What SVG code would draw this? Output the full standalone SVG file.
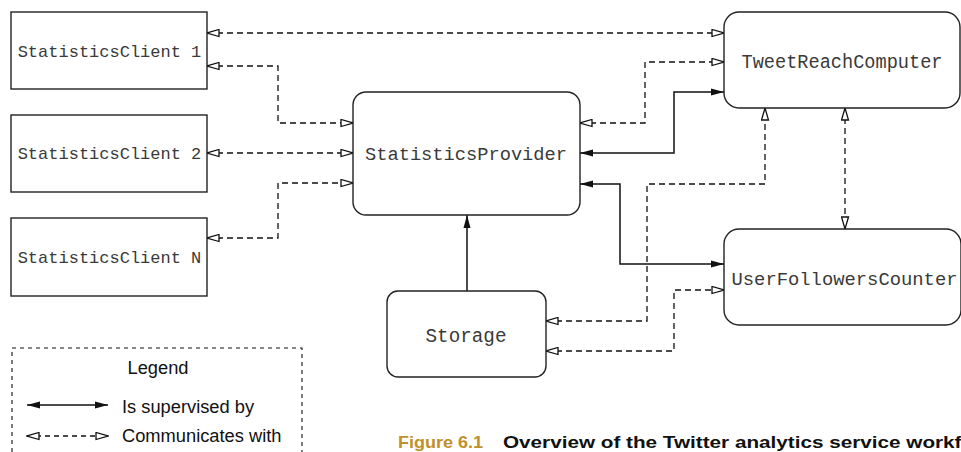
<svg xmlns="http://www.w3.org/2000/svg" width="961" height="452" viewBox="0 0 961 452">
<style>
.box{fill:#fff;stroke:#222;stroke-width:1.4}
.lbl{font-family:"Liberation Mono","Courier New",monospace;fill:#3a3a3a;text-anchor:middle}
.dash{fill:none;stroke:#111;stroke-width:1.3;stroke-dasharray:6,4;marker-start:url(#open);marker-end:url(#open)}
.solid{fill:none;stroke:#111;stroke-width:1.5}
.leg{font-family:"Liberation Sans",Arial,sans-serif;font-size:18.3px;fill:#111}
</style>
<defs>
<marker id="open" viewBox="0 0 14 9" refX="13" refY="4.5" markerWidth="14" markerHeight="9" markerUnits="userSpaceOnUse" orient="auto-start-reverse">
<path d="M1,1 L13,4.5 L1,8 z" fill="#fff" stroke="#111" stroke-width="1.3"/>
</marker>
<marker id="fill" viewBox="0 0 14 8" refX="13" refY="4" markerWidth="14" markerHeight="8" markerUnits="userSpaceOnUse" orient="auto-start-reverse">
<path d="M0,0.5 L13,4 L0,7.5 z" fill="#111"/>
</marker>
</defs>

<g id="connectors">
<path class="dash" d="M207,33 H724"/>
<path class="dash" d="M207,66 H278 V123 H353"/>
<path class="dash" d="M207,153 H353"/>
<path class="dash" d="M207,238 H278 V183 H353"/>
<path class="dash" d="M580,123 H645 V62 H724"/>
<path class="solid" d="M580,153 H674 V92 H724" marker-start="url(#fill)" marker-end="url(#fill)"/>
<path class="solid" d="M580,184 H620 V264 H724" marker-start="url(#fill)" marker-end="url(#fill)"/>
<path class="dash" d="M546,321 H647 V184 H765 V108"/>
<path class="dash" d="M546,351 H674 V290 H724"/>
<path class="dash" d="M845,108 V229"/>
<path class="solid" d="M467,291 V215" marker-end="url(#fill)"/>
</g>

<g id="client1">
<rect class="box" x="11" y="12" width="196" height="77"/>
<text class="lbl" x="109.5" y="57" font-size="17">StatisticsClient 1</text>
</g>
<g id="client2">
<rect class="box" x="11" y="115" width="196" height="77"/>
<text class="lbl" x="109.5" y="159" font-size="17">StatisticsClient 2</text>
</g>
<g id="clientN">
<rect class="box" x="11" y="218" width="196" height="78"/>
<text class="lbl" x="109.5" y="263" font-size="17">StatisticsClient N</text>
</g>
<g id="provider">
<rect class="box" x="353" y="92" width="227" height="123" rx="13"/>
<text class="lbl" x="466" y="160" font-size="19" textLength="202" lengthAdjust="spacingAndGlyphs">StatisticsProvider</text>
</g>
<g id="tweetreach">
<rect class="box" x="724" y="12" width="236" height="96" rx="15"/>
<text class="lbl" x="842" y="68" font-size="19.5" textLength="201" lengthAdjust="spacingAndGlyphs">TweetReachComputer</text>
</g>
<g id="userfollowers">
<rect class="box" x="724" y="229" width="237" height="96" rx="15"/>
<text class="lbl" x="844.5" y="285" font-size="19" textLength="226" lengthAdjust="spacingAndGlyphs">UserFollowersCounter</text>
</g>
<g id="storage">
<rect class="box" x="387" y="291" width="159" height="86" rx="11"/>
<text class="lbl" x="466" y="342" font-size="19.5" textLength="81" lengthAdjust="spacingAndGlyphs">Storage</text>
</g>

<g id="legend">
<rect x="12" y="348" width="290" height="130" fill="none" stroke="#111" stroke-width="1.1" stroke-dasharray="4,4"/>
<text class="leg" x="158" y="374" text-anchor="middle">Legend</text>
<path class="solid" d="M27,405 H108" marker-start="url(#fill)" marker-end="url(#fill)"/>
<text class="leg" x="122" y="413">Is supervised by</text>
<path d="M27,436 H108" fill="none" stroke="#111" stroke-width="1.3" stroke-dasharray="5,4" marker-start="url(#open)" marker-end="url(#open)"/>
<text class="leg" x="122" y="442">Communicates with</text>
</g>

<g id="caption">
<text x="398" y="448" font-family="'Liberation Sans',Arial,sans-serif" font-weight="bold" font-size="17" fill="#c0902a" textLength="85" lengthAdjust="spacingAndGlyphs">Figure 6.1</text>
<text x="503" y="448" font-family="'Liberation Sans',Arial,sans-serif" font-weight="bold" font-size="17" fill="#111" textLength="493" lengthAdjust="spacingAndGlyphs">Overview of the Twitter analytics service workflow</text>
</g>
</svg>
